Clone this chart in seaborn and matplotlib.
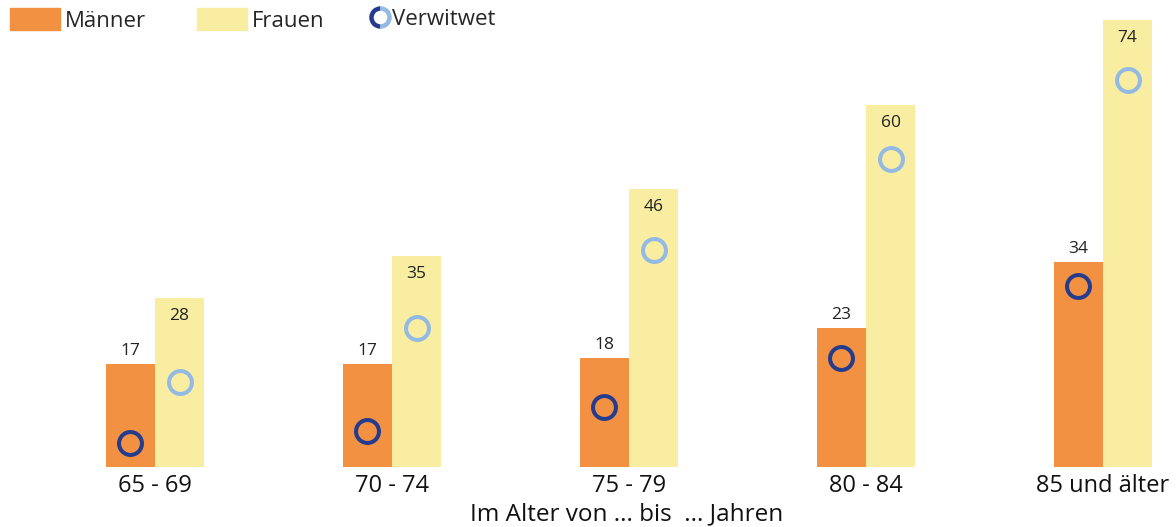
import pandas as pd
import matplotlib
matplotlib.use("Agg")
import matplotlib.pyplot as plt
import seaborn as sns
from matplotlib.lines import Line2D
from matplotlib.patches import Patch
from matplotlib.path import Path
from matplotlib.legend_handler import HandlerTuple

# Daten (Anteile in %)
altersgruppen = ["65 - 69", "70 - 74", "75 - 79", "80 - 84", "85 und älter"]
maenner = [17, 17, 18, 23, 34]
frauen = [28, 35, 46, 60, 74]
verwitwet_maenner = [4, 6, 10, 18, 30]
verwitwet_frauen = [14, 23, 36, 51, 64]

orange = "#F39143"
gelb = "#F8EDA0"
dunkelblau = "#243B8E"
hellblau = "#92BAE4"

sns.set_theme(style="white")
plt.rcParams["font.family"] = ["Open Sans", "DejaVu Sans"]

df = pd.DataFrame({
    "alter": altersgruppen * 2,
    "geschlecht": ["Männer"] * len(maenner) + ["Frauen"] * len(frauen),
    "anteil": maenner + frauen,
})

fig = plt.figure(figsize=(11.76, 5.27), dpi=100)
ax = fig.add_axes([0, 60 / 527, 1, 467 / 527])

sns.barplot(data=df, x="alter", y="anteil", hue="geschlecht",
            hue_order=["Männer", "Frauen"], palette=[orange, gelb],
            width=0.414, gap=0.02, saturation=1, errorbar=None,
            linewidth=0, legend=False, ax=ax)

# Kreise fuer verwitwet, mittig auf den Balken
# Maenner-Werte ueber dem Balken, Frauen-Werte im Balken
for cont, werte, farbe, pad in zip(ax.containers, [verwitwet_maenner, verwitwet_frauen],
                                   [dunkelblau, hellblau], [3.5, -19]):
    xs = [b.get_x() + b.get_width() / 2 for b in cont]
    ax.plot(xs, werte, "o", ms=16.5, mfc="none", mec=farbe, mew=2.9, ls="none")
    ax.bar_label(cont, fmt="%d", padding=pad, fontsize=12.5, color="#222222")

ax.set_xlim(-0.654, 4.308)
ax.set_ylim(0, 77.3)
ax.set_yticks([])
ax.set_ylabel("")
sns.despine(ax=ax, left=True, bottom=True)
ax.tick_params(axis="x", length=0, pad=5, labelsize=17, labelcolor="#111111")
ax.set_xlabel("Im Alter von ... bis  ... Jahren", fontsize=17.5, color="#111111")
ax.xaxis.set_label_coords(627 / 1176, -0.075)

# Legende
fig.legend(handles=[Patch(color=orange, label="Männer"), Patch(color=gelb, label="Frauen")],
           loc="upper left", bbox_to_anchor=(0.004, 0.996), ncol=2, frameon=False,
           fontsize=16, handlelength=2.25, handleheight=1.2, handletextpad=0.22,
           columnspacing=2.3, borderaxespad=0, borderpad=0.25)

links = Line2D([], [], marker=Path.arc(90, 270), ms=13, mfc="none", mec=dunkelblau, mew=3.2, ls="none")
rechts = Line2D([], [], marker=Path.arc(-90, 90), ms=13, mfc="none", mec=hellblau, mew=3.2, ls="none")
fig.legend(handles=[(links, rechts)], labels=["Verwitwet"],
           handler_map={tuple: HandlerTuple(ndivide=1)},
           loc="upper left", bbox_to_anchor=(363 / 1176, 0.996), frameon=False,
           fontsize=16, handlelength=0.9, handletextpad=0.1, borderaxespad=0, borderpad=0.3)

fig.savefig("out.png", dpi=100)
